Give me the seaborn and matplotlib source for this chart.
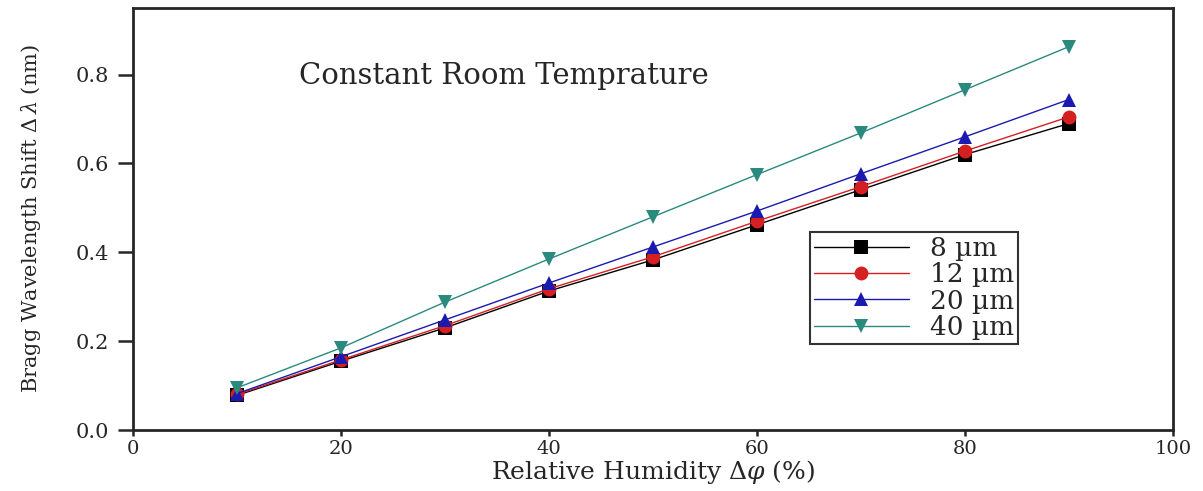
import pandas as pd
import matplotlib
matplotlib.use('Agg')
import matplotlib.pyplot as plt
import seaborn as sns

# Data
humidity = [10, 20, 30, 40, 50, 60, 70, 80, 90]
shift_8um = [0.078, 0.155, 0.230, 0.313, 0.383, 0.462, 0.541, 0.620, 0.690]
shift_12um = [0.080, 0.158, 0.235, 0.318, 0.390, 0.470, 0.548, 0.628, 0.705]
shift_20um = [0.082, 0.165, 0.248, 0.331, 0.412, 0.493, 0.577, 0.660, 0.744]
shift_40um = [0.095, 0.185, 0.288, 0.385, 0.480, 0.575, 0.669, 0.766, 0.863]
labels = ['8 \u00b5m', '12 \u00b5m', '20 \u00b5m', '40 \u00b5m']

rows = []
for lab, vals in zip(labels, [shift_8um, shift_12um, shift_20um, shift_40um]):
    for x, y in zip(humidity, vals):
        rows.append({'rh': x, 'shift': y, 'thickness': lab})
df = pd.DataFrame(rows)

sns.set_style('ticks')
plt.rcParams['font.family'] = ['DejaVu Serif']
plt.rcParams['mathtext.fontset'] = 'dejavuserif'

fig = plt.figure(figsize=(12.03, 4.91), dpi=100)
ax = fig.add_axes([0.1106, 0.1242, 0.8644, 0.8595])

palette = {labels[0]: 'black', labels[1]: '#d42020', labels[2]: '#1a1ab0', labels[3]: '#2a8a7e'}
markers = {labels[0]: 's', labels[1]: 'o', labels[2]: '^', labels[3]: 'v'}
sns.lineplot(data=df, x='rh', y='shift', hue='thickness', style='thickness',
             palette=palette, markers=markers, dashes=False, ax=ax,
             linewidth=1.0, markersize=10, markeredgewidth=0)

ax.set_xlim(0, 100)
ax.set_ylim(0, 0.95)
ax.set_xticks([0, 20, 40, 60, 80, 100])
ax.set_yticks([0.0, 0.2, 0.4, 0.6, 0.8])
ax.set_yticklabels(['0.0', '0.2', '0.4', '0.6', '0.8'])
ax.tick_params(axis='x', direction='out', length=4, width=1.8, labelsize=14, pad=3)
ax.tick_params(axis='y', direction='out', length=11, width=1.8, labelsize=15, pad=6)
for s in ax.spines.values():
    s.set_linewidth(2)

ax.set_xlabel('Relative Humidity $\\Delta\\varphi$ (%)', fontsize=18, labelpad=0)
ax.set_ylabel('Bragg Wavelength Shift $\\Delta\\,\\lambda$ (nm)', fontsize=15, labelpad=24)
ax.text(16, 0.78, 'Constant Room Temprature', fontsize=21)

leg = ax.legend(loc='upper left', bbox_to_anchor=(0.651, 0.469), fontsize=19,
                frameon=True, fancybox=False, edgecolor='black', handlelength=3.6,
                borderpad=0.15, labelspacing=0.05, handletextpad=0.8, borderaxespad=0)
leg.get_frame().set_linewidth(1.5)

plt.savefig('out.png', dpi=100)
